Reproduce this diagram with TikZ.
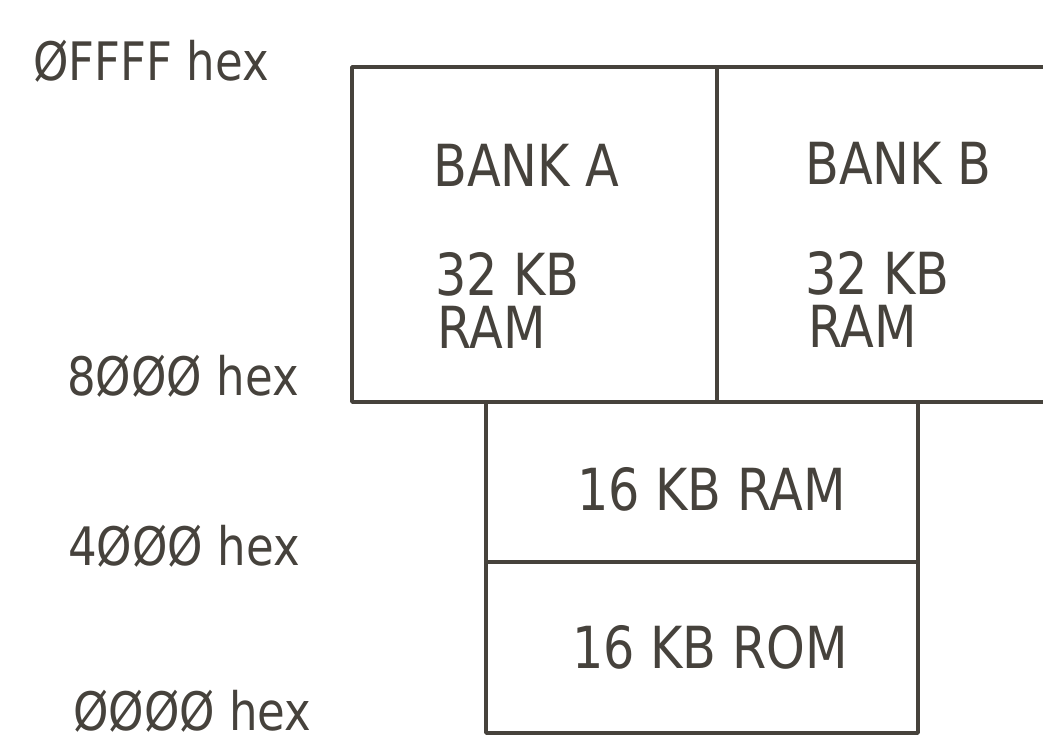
\documentclass[tikz,border=0pt]{standalone}
\usepackage{fontspec}
\setmainfont{DejaVu Sans}[FakeStretch=0.85]
\definecolor{ink}{HTML}{46423C}
\tikzset{
  cell/.style={draw=ink, line width=3.5pt, line join=round, anchor=north west,
               inner sep=0pt, outer sep=0pt},
  boxtext/.style={text=ink, anchor=base west, inner sep=0pt,
                  font=\fontsize{58}{64}\selectfont},
  addr/.style={text=ink, anchor=base west, inner sep=0pt,
               font=\fontsize{53}{60}\selectfont},
}
\begin{document}
\begin{tikzpicture}[x=1pt, y=-1pt]
\useasboundingbox (0,0) rectangle (1043,745);
\clip (0,0) rectangle (1043,745);

% upper half: the two switchable 32 KB banks
\node[cell, minimum width=365pt, minimum height=335pt] (bankA) at (352,67) {};
\node[cell, minimum width=420pt, minimum height=335pt] (bankB) at (717,67) {};

% lower half: fixed RAM over ROM
\node[cell, minimum width=432pt, minimum height=160pt] (ram) at (486,402) {};
\node[cell, minimum width=432pt, minimum height=171pt] (rom) at (486,562) {};

% contents of the blocks
\node[boxtext] (tA)  at (433,186) {BANK A};
\node[boxtext] (sA)  at (435,295) {32 KB};
\node[boxtext] (rA)  at (437,348) {RAM};
\node[boxtext] (tB)  at (805,184) {BANK B};
\node[boxtext] (sB)  at (805,294) {32 KB};
\node[boxtext] (rB)  at (808,347) {RAM};
\node[boxtext] (tR)  at (577,510) {16 KB RAM};
\node[boxtext] (tO)  at (572,668) {16 KB ROM};

% address labels
\node[addr] (aFFFF) at (33,80)  {ØFFFF hex};
\node[addr] (a8000) at (67,395) {8ØØØ hex};
\node[addr] (a4000) at (68,565) {4ØØØ hex};
\node[addr] (a0000) at (73,730) {ØØØØ hex};
\end{tikzpicture}
\end{document}
